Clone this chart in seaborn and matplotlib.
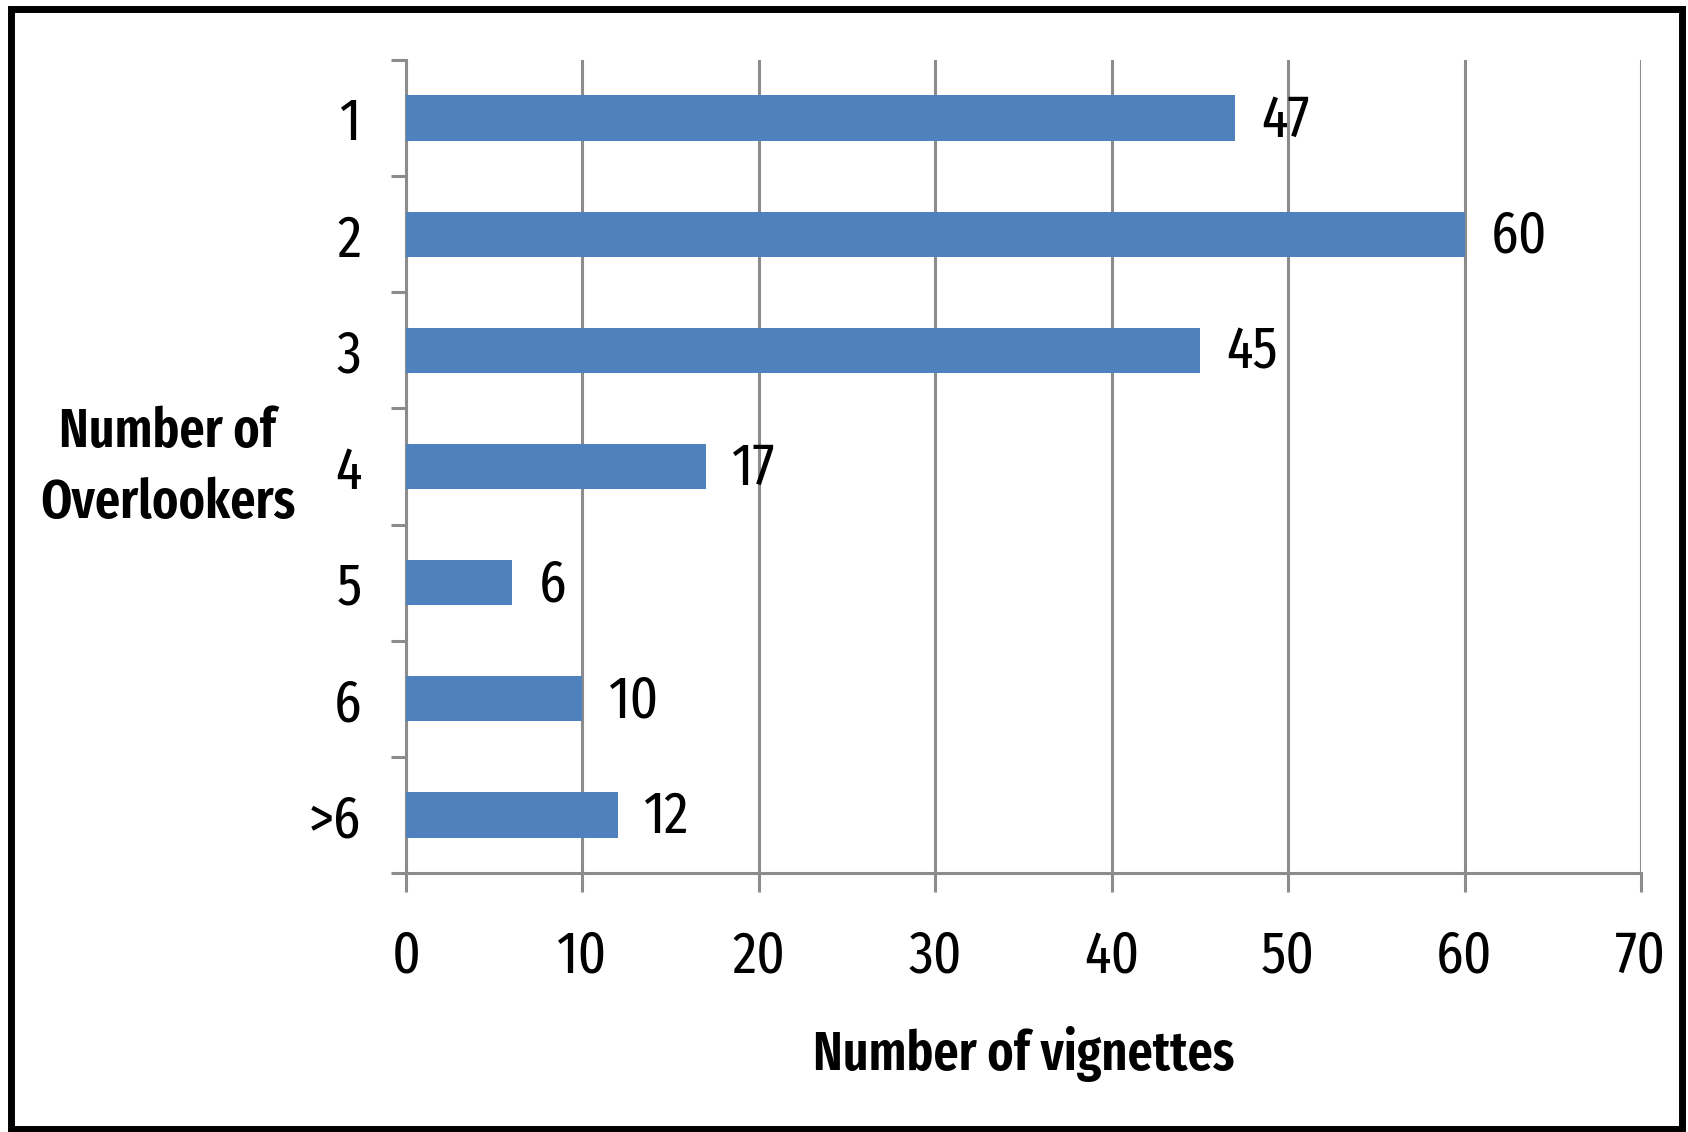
import matplotlib
matplotlib.use("Agg")
import matplotlib.pyplot as plt
import seaborn as sns
import pandas as pd
from matplotlib.patches import Rectangle
from matplotlib.ticker import FixedLocator

categories = ["1", "2", "3", "4", "5", "6", ">6"]
values = [47, 60, 45, 17, 6, 10, 12]
x_ticks = [0, 10, 20, 30, 40, 50, 60, 70]

sns.set_theme(style="white")
plt.rcParams['font.family'] = ['Fira Sans Extra Condensed', 'Carlito', 'DejaVu Sans']

df = pd.DataFrame({"cat": categories, "val": values})

fig = plt.figure(figsize=(16.88, 11.32), dpi=100)
ax = fig.add_axes([406/1688, 1 - 873/1132, (1641 - 406)/1688, (873 - 60)/1132])

sns.barplot(data=df, y="cat", x="val", order=categories, orient="h",
            color="#4F81BD", saturation=1, width=0.39, linewidth=0, ax=ax, zorder=3)

ax.set_xlim(0, 70)
ax.set_ylim(6.5, -0.5)
ax.set_xticks(x_ticks)
ax.set_xticklabels([str(t) for t in x_ticks], fontsize=43)
ax.set_yticks(range(len(categories)))
ax.set_yticklabels(categories, fontsize=43)
ax.yaxis.set_minor_locator(FixedLocator([i - 0.5 for i in range(len(categories) + 1)]))

grid_c = "#8C8C8C"
ax.grid(axis="x", color=grid_c, linewidth=2.2, zorder=0)
ax.set_axisbelow(True)
for s in ["top", "right"]:
    ax.spines[s].set_visible(False)
for s in ["left", "bottom"]:
    ax.spines[s].set_color(grid_c)
    ax.spines[s].set_linewidth(2.2)

ax.tick_params(axis="y", which="major", length=0, pad=32, labelcolor="black")
ax.tick_params(axis="y", which="minor", left=True, length=10.5, width=2.2, color=grid_c)
ax.tick_params(axis="x", which="major", bottom=True, length=13.5, width=2.2, color=grid_c,
               pad=26, labelcolor="black")

for i, v in enumerate(values):
    ax.text(v + 1.5, i + 0.02, str(v), va="center", ha="left", fontsize=43, color="black")

ax.set_xlabel("Number of vignettes", fontsize=39, fontweight=600, labelpad=30, color="black")
ax.set_ylabel("")
fig.text(168/1688, 1 - 468/1132, "Number of\nOverlookers", ha="center", va="center",
         fontsize=39, fontweight=600, color="black", linespacing=1.45)

fig.patches.append(Rectangle((11/1688, 3/1132), (1682 - 11)/1688, (1123 - 3)/1132,
                             transform=fig.transFigure, fill=False, edgecolor="black",
                             linewidth=5))

fig.savefig("out.png", dpi=100)
